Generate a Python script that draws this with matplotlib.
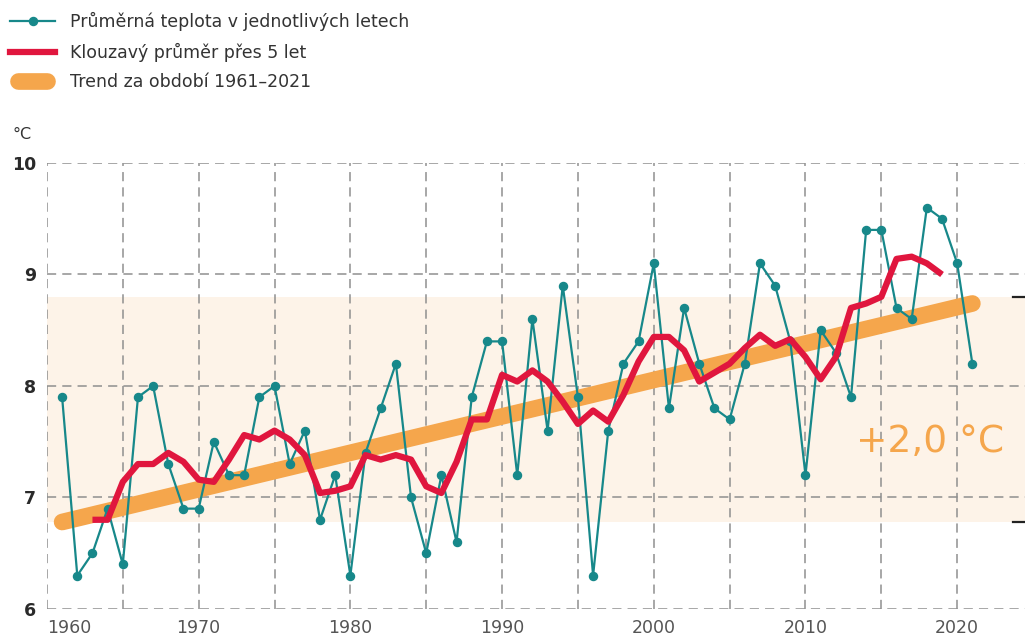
import matplotlib
matplotlib.use('Agg')
import matplotlib.pyplot as plt
import matplotlib.transforms as mtransforms
from matplotlib.lines import Line2D
from matplotlib.legend_handler import HandlerLine2D

# ---------------- data ----------------
years = list(range(1961, 2022))
annual_temp = [7.9, 6.3, 6.5, 6.9, 6.4, 7.9, 8.0, 7.3, 6.9, 6.9,
               7.5, 7.2, 7.2, 7.9, 8.0, 7.3, 7.6, 6.8, 7.2, 6.3,
               7.4, 7.8, 8.2, 7.0, 6.5, 7.2, 6.6, 7.9, 8.4, 8.4,
               7.2, 8.6, 7.6, 8.9, 7.9, 6.3, 7.6, 8.2, 8.4, 9.1,
               7.8, 8.7, 8.2, 7.8, 7.7, 8.2, 9.1, 8.9, 8.4, 7.2,
               8.5, 8.3, 7.9, 9.4, 9.4, 8.7, 8.6, 9.6, 9.5, 9.1,
               8.2]
ma_years = list(range(1963, 2020))
moving_avg = [6.80, 6.80, 7.14, 7.30, 7.30, 7.40, 7.32, 7.16, 7.14, 7.34,
              7.56, 7.52, 7.60, 7.52, 7.38, 7.04, 7.06, 7.10, 7.38, 7.34,
              7.38, 7.34, 7.10, 7.04, 7.32, 7.70, 7.70, 8.10, 8.04, 8.14,
              8.04, 7.86, 7.66, 7.78, 7.68, 7.92, 8.22, 8.44, 8.44, 8.32,
              8.04, 8.12, 8.20, 8.34, 8.46, 8.36, 8.42, 8.26, 8.06, 8.26,
              8.70, 8.74, 8.80, 9.14, 9.16, 9.10, 9.00]
trend_years = [1961, 2021]
trend_values = [6.78, 8.74]
band_limits = [6.78, 8.80]
x_major = [1960, 1970, 1980, 1990, 2000, 2010, 2020]
x_minor = [1965, 1975, 1985, 1995, 2005, 2015]
y_ticks = [6, 7, 8, 9, 10]
legend_labels = ['Průměrná teplota v jednotlivých letech',
                 'Klouzavý průměr přes 5 let',
                 'Trend za období 1961–2021']
trend_label = '+2,0 °C'
unit_label = '°C'

# ---------------- style ----------------
TEAL = '#17888a'
RED = '#e0163e'
ORANGE = '#f5a64c'
BAND = '#fdf3e8'
GRID = '#8f8f8f'
plt.rcParams['font.family'] = ['DejaVu Sans']

fig = plt.figure(figsize=(10.25, 6.37), dpi=100)
ax = fig.add_axes([0.0458, 0.044, 0.9542, 0.7001])
ax.set_xlim(1960, 2024.47)
ax.set_ylim(6, 10)

ax.axhspan(band_limits[0], band_limits[1], color=BAND, zorder=0, lw=0)

ax.set_xticks(x_major)
ax.set_xticks(x_minor, minor=True)
ax.set_yticks(y_ticks)
ax.grid(True, which='both', axis='x', color=GRID, lw=1.1, dashes=(6, 4), zorder=1)
ax.grid(True, which='major', axis='y', color=GRID, lw=1.1, dashes=(6, 4), zorder=1)
for s in ax.spines.values():
    s.set_visible(False)
ax.tick_params(axis='both', which='both', length=0)
ax.tick_params(axis='x', pad=7, labelsize=12.5, labelcolor='#555555')
ax.tick_params(axis='y', pad=8, labelsize=12.5, labelcolor='#2a2a2a')
for lab in ax.get_yticklabels():
    lab.set_fontweight('bold')
ax.get_xticklabels()[0].set_horizontalalignment('left')

trend_line, = ax.plot(trend_years, trend_values, color=ORANGE, lw=12,
                      solid_capstyle='round', zorder=2)
annual_line, = ax.plot(years, annual_temp, color=TEAL, lw=1.6, marker='o',
                       ms=5.8, zorder=3)
ma_line, = ax.plot(ma_years, moving_avg, color=RED, lw=4.5,
                   solid_joinstyle='round', solid_capstyle='butt', zorder=4)

# bracket marks for the band on the right
btrans = mtransforms.blended_transform_factory(ax.transAxes, ax.transData)
for b in band_limits:
    ax.plot([0.988, 1.0], [b, b], transform=btrans, color='#222222', lw=1.6,
            clip_on=False, zorder=5)

ax.text(2018.2, 7.5, trend_label, color=ORANGE, fontsize=27,
        ha='center', va='center', zorder=5)

fig.text(13 / 1025, 1 - 135 / 637, unit_label, fontsize=11.5, color='#333333',
         ha='left', va='center')


class ShortRoundHandler(HandlerLine2D):
    def create_artists(self, legend, orig_handle, xdescent, ydescent, width,
                       height, fontsize, trans):
        artists = super().create_artists(legend, orig_handle, xdescent,
                                         ydescent, width, height, fontsize, trans)
        inset = orig_handle.get_linewidth() / 2
        for a in artists:
            xd = list(a.get_xdata())
            if len(xd) < 2:
                continue
            x0, x1 = min(xd), max(xd)
            w = x1 - x0
            if w <= 0:
                continue
            k = (w - 2 * inset) / w
            a.set_xdata([x0 + inset + (x - x0) * k for x in xd])
        return artists


leg_annual = Line2D([], [], color=TEAL, lw=1.6, marker='o', ms=5.8)
leg_ma = Line2D([], [], color=RED, lw=4.5)
leg_trend = Line2D([], [], color=ORANGE, lw=12, solid_capstyle='round')
fig.legend([leg_annual, leg_ma, leg_trend], legend_labels,
           loc='upper left', bbox_to_anchor=(10 / 1025, 1 - 12 / 637),
           frameon=False, fontsize=12.5, handlelength=2.6, handletextpad=0.85,
           labelspacing=0.67, borderpad=0, borderaxespad=0, numpoints=1,
           labelcolor='#333333',
           handler_map={leg_trend: ShortRoundHandler()})

fig.savefig('out.png', dpi=100)
